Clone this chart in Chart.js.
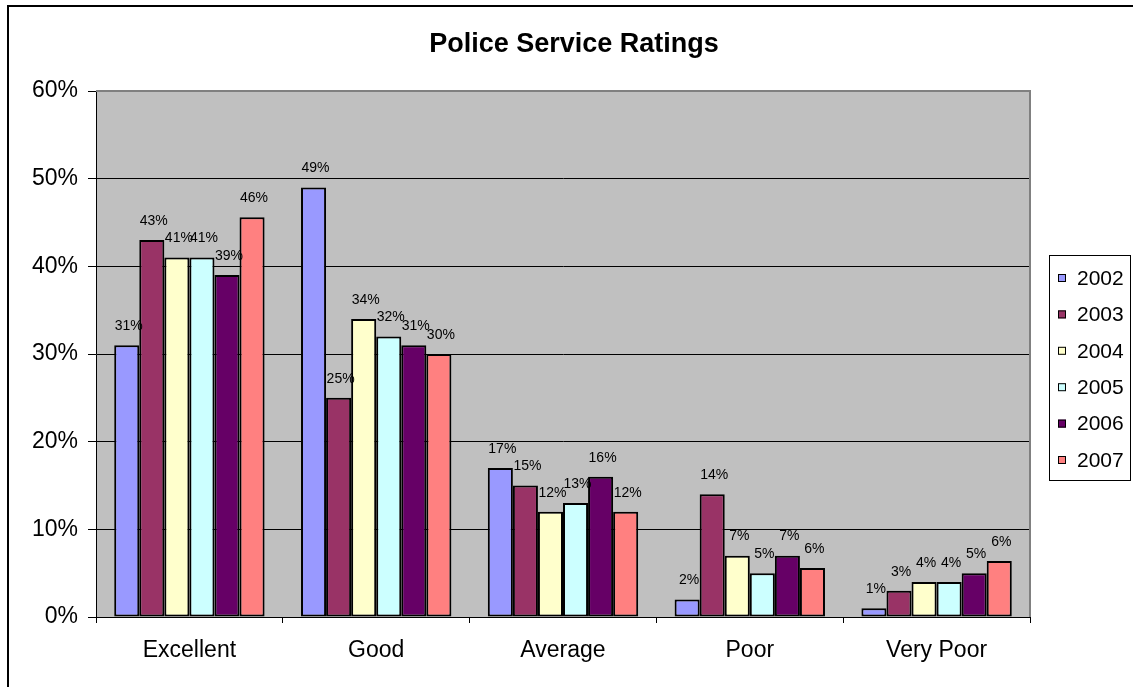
<!DOCTYPE html>
<html>
<head>
<meta charset="utf-8">
<script src="https://cdn.jsdelivr.net/npm/chart.js@4.4.1/dist/chart.umd.min.js"></script>
<style>
  html, body { margin:0; padding:0; background:#fff; }
  #wrap { position:relative; width:1133px; height:687px; }
</style>
</head>
<body>
<div id="wrap"><canvas id="c" width="1133" height="687"></canvas></div>
<script>
const categories = ['Excellent', 'Good', 'Average', 'Poor', 'Very Poor']
const years = ['2002', '2003', '2004', '2005', '2006', '2007']
const v2002 = [31, 49, 17, 2, 1]
const v2003 = [43, 25, 15, 14, 3]
const v2004 = [41, 34, 12, 7, 4]
const v2005 = [41, 32, 13, 5, 4]
const v2006 = [39, 31, 16, 7, 5]
const v2007 = [45.6, 30, 12, 5.6, 6.4]
const yTicks = [0, 10, 20, 30, 40, 50, 60]
const titleText = 'Police Service Ratings'

const colors = ['#9999FF', '#993366', '#FFFFCC', '#CCFFFF', '#660066', '#FF8080']
const FONT = "'Liberation Sans', Arial, sans-serif"

// Excel-ish frame, grey plot area, title, value labels, boxed legend
const excelLook = {
  id: 'excelLook',
  beforeDraw(chart) {
    const { ctx, chartArea: a } = chart
    ctx.save()
    ctx.fillStyle = '#fff'
    ctx.fillRect(0, 0, chart.width, chart.height)
    ctx.strokeStyle = '#000'; ctx.lineWidth = 2
    ctx.strokeRect(8, 6, chart.width + 20, chart.height + 20)
    ctx.fillStyle = '#C0C0C0'
    ctx.fillRect(a.left, a.top, a.right - a.left, a.bottom - a.top)
    ctx.fillStyle = '#000'
    ctx.font = 'bold 27px ' + FONT
    ctx.textAlign = 'center'; ctx.textBaseline = 'middle'
    ctx.fillText(titleText, 574, 45)
    ctx.restore()
  },
  afterDatasetsDraw(chart) {
    const { ctx, chartArea: a } = chart
    ctx.save()
    // plot border (grey)
    ctx.strokeStyle = '#808080'; ctx.lineWidth = 2
    ctx.beginPath()
    ctx.moveTo(a.left, a.top); ctx.lineTo(a.right, a.top); ctx.lineTo(a.right, a.bottom)
    ctx.stroke()
    // value labels
    ctx.fillStyle = '#000'
    ctx.font = '14px ' + FONT
    ctx.textAlign = 'center'; ctx.textBaseline = 'middle'
    chart.data.datasets.forEach((ds, i) => {
      chart.getDatasetMeta(i).data.forEach((bar, j) => {
        ctx.fillText(Math.round(ds.data[j]) + '%', bar.x + 2, bar.y - 19)
      })
    })
    // legend
    const lx = 1049, ly = 255, lw = 81, lh = 225
    ctx.fillStyle = '#fff'
    ctx.fillRect(lx, ly, lw, lh)
    ctx.strokeStyle = '#000'; ctx.lineWidth = 1
    ctx.strokeRect(lx + 0.5, ly + 0.5, lw, lh)
    ctx.font = '21px ' + FONT
    ctx.textAlign = 'left'
    chart.data.datasets.forEach((ds, i) => {
      const cy = 278 + i * 36.4
      ctx.fillStyle = ds.backgroundColor
      ctx.fillRect(1058, cy - 4, 8, 8)
      ctx.strokeRect(1058.5, cy - 3.5, 7, 7)
      ctx.fillStyle = '#000'
      ctx.fillText(ds.label, 1077, cy + 1)
    })
    ctx.restore()
  }
}

const allValues = [v2002, v2003, v2004, v2005, v2006, v2007]

new Chart(document.getElementById('c'), {
  type: 'bar',
  data: {
    labels: categories,
    datasets: years.map((y, i) => ({
      label: y,
      data: allValues[i],
      backgroundColor: colors[i],
      borderColor: '#000',
      borderWidth: 2,
      borderSkipped: false,
      barPercentage: 1.0,
      categoryPercentage: 0.805
    }))
  },
  options: {
    responsive: false,
    animation: false,
    layout: { padding: { left: 0, top: 91, right: 103, bottom: 0 } },
    plugins: {
      legend: { display: false },
      tooltip: { enabled: false },
      title: { display: false }
    },
    scales: {
      x: {
        grid: { display: true, drawOnChartArea: false, offset: true, color: '#000', tickLength: 6, lineWidth: 1 },
        border: { color: '#000', width: 1 },
        ticks: { color: '#000', font: { family: FONT, size: 23 }, padding: 14 },
        afterFit(s) { s.height = 70 }
      },
      y: {
        min: 0, max: 60,
        afterBuildTicks(s) { s.ticks = yTicks.map(v => ({ value: v })) },
        grid: { color: '#000', lineWidth: 1, tickLength: 8, drawTicks: true },
        border: { color: '#000', width: 1 },
        ticks: { color: '#000', font: { family: FONT, size: 23 }, padding: 10, callback: v => v + '%' },
        afterFit(s) { s.width = 96 }
      }
    }
  },
  plugins: [excelLook]
})
</script>
</body>
</html>
